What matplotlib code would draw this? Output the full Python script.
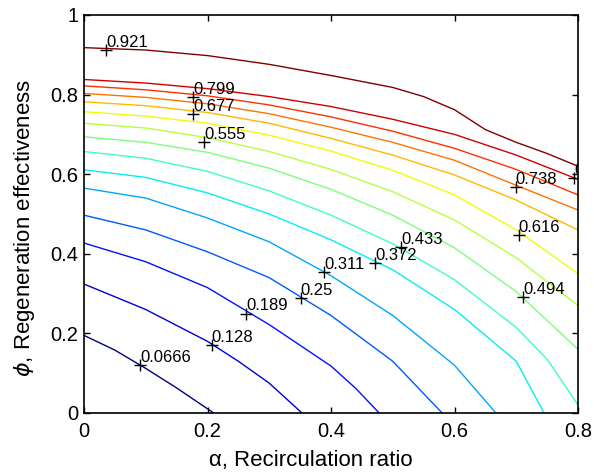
import matplotlib
matplotlib.use('Agg')
import matplotlib.pyplot as plt
from matplotlib.colors import Normalize

plt.rcParams['font.family'] = ['Liberation Sans', 'DejaVu Sans']

# contour levels (eta) and where each level line runs in (alpha, phi)
levels = [0.0666, 0.128, 0.189, 0.25, 0.311, 0.372, 0.433, 0.494,
          0.555, 0.616, 0.677, 0.738, 0.799, 0.86, 0.921]

a_0666 = [0, 0.05, 0.1, 0.15, 0.21]
p_0666 = [0.195, 0.158, 0.112, 0.063, 0.0]
a_128 = [0, 0.1, 0.2, 0.25, 0.3, 0.353]
p_128 = [0.324, 0.26, 0.18, 0.13, 0.075, 0.0]
a_189 = [0, 0.1, 0.2, 0.3, 0.4, 0.44, 0.478]
p_189 = [0.427, 0.38, 0.315, 0.222, 0.118, 0.062, 0.0]
a_25 = [0, 0.1, 0.2, 0.3, 0.4, 0.5, 0.58]
p_25 = [0.497, 0.46, 0.405, 0.34, 0.245, 0.13, 0.0]
a_311 = [0, 0.1, 0.2, 0.3, 0.4, 0.5, 0.6, 0.667]
p_311 = [0.565, 0.54, 0.49, 0.43, 0.345, 0.245, 0.12, 0.0]
a_372 = [0, 0.1, 0.2, 0.3, 0.4, 0.5, 0.6, 0.7, 0.745]
p_372 = [0.611, 0.592, 0.553, 0.50, 0.435, 0.36, 0.26, 0.13, 0.0]
a_433 = [0, 0.1, 0.2, 0.3, 0.4, 0.5, 0.6, 0.7, 0.75, 0.8]
p_433 = [0.657, 0.64, 0.607, 0.558, 0.497, 0.425, 0.335, 0.215, 0.135, 0.02]
a_grid = [0, 0.1, 0.2, 0.3, 0.4, 0.5, 0.6, 0.7, 0.8]
p_494 = [0.694, 0.68, 0.655, 0.615, 0.562, 0.497, 0.415, 0.305, 0.16]
p_555 = [0.728, 0.716, 0.692, 0.657, 0.612, 0.556, 0.485, 0.39, 0.27]
p_616 = [0.757, 0.746, 0.728, 0.698, 0.658, 0.61, 0.548, 0.46, 0.35]
p_677 = [0.782, 0.772, 0.755, 0.728, 0.69, 0.648, 0.598, 0.535, 0.46]
p_738 = [0.803, 0.793, 0.777, 0.752, 0.718, 0.68, 0.635, 0.572, 0.51]
p_799 = [0.822, 0.812, 0.797, 0.774, 0.744, 0.708, 0.665, 0.612, 0.548]
p_86 = [0.838, 0.829, 0.815, 0.795, 0.77, 0.738, 0.70, 0.648, 0.587]
a_921 = [0, 0.1, 0.2, 0.3, 0.4, 0.5, 0.55, 0.6, 0.65, 0.7, 0.75, 0.8]
p_921 = [0.918, 0.912, 0.898, 0.876, 0.848, 0.818, 0.795, 0.762, 0.712, 0.68, 0.652, 0.62]

# clabel positions
label_text = ['0.0666', '0.128', '0.189', '0.25', '0.311', '0.372', '0.433', '0.494',
              '0.555', '0.616', '0.677', '0.738', '0.799', '0.86', '0.921']
label_a = [0.091, 0.207, 0.263, 0.351, 0.389, 0.472, 0.514, 0.711,
           0.195, 0.704, 0.177, 0.699, 0.177, 0.794, 0.036]
label_p = [0.121, 0.171, 0.250, 0.289, 0.354, 0.377, 0.417, 0.291,
           0.681, 0.447, 0.752, 0.568, 0.794, 0.590, 0.912]

xticks = [0, 0.2, 0.4, 0.6, 0.8]
xticklabels = ['0', '0.2', '0.4', '0.6', '0.8']
yticks = [0, 0.2, 0.4, 0.6, 0.8, 1]
yticklabels = ['0', '0.2', '0.4', '0.6', '0.8', '1']

curves = [(a_0666, p_0666), (a_128, p_128), (a_189, p_189), (a_25, p_25),
          (a_311, p_311), (a_372, p_372), (a_433, p_433), (a_grid, p_494),
          (a_grid, p_555), (a_grid, p_616), (a_grid, p_677), (a_grid, p_738),
          (a_grid, p_799), (a_grid, p_86), (a_921, p_921)]

fig = plt.figure(figsize=(5.94, 4.76), dpi=100)
ax = fig.add_axes([84 / 594, 63 / 476, 494 / 594, 398 / 476])

# jet colours spread over the level range, like matlab's contour
norm = Normalize(vmin=levels[0], vmax=levels[-1])
for lev, (a, p) in zip(levels, curves):
    ax.plot(a, p, color=plt.cm.jet(norm(lev)), lw=1.0, solid_joinstyle='round')

for t, a, p in zip(label_text, label_a, label_p):
    ax.plot(a, p, marker='+', color='black', markersize=8, mew=1.0, clip_on=True)
    ax.text(a, p, t, ha='left', va='bottom', fontsize=12, color='black', clip_on=True)

ax.set_xlim(0, 0.8)
ax.set_ylim(0, 1)
ax.set_xticks(xticks)
ax.set_xticklabels(xticklabels)
ax.set_yticks(yticks)
ax.set_yticklabels(yticklabels)
ax.tick_params(direction='in', top=True, right=True, length=4, width=1,
               labelsize=14.5)
ax.tick_params(axis='x', pad=6.5)
ax.tick_params(axis='y', pad=4)
for spine in ax.spines.values():
    spine.set_linewidth(1.2)

ax.set_xlabel('α, Recirculation ratio', fontsize=16)
ax.set_ylabel(r'$\phi$, Regeneration effectiveness', fontsize=16)
ax.xaxis.set_label_coords(0.46, -0.092)
ax.yaxis.set_label_coords(-0.095, 0.465)

fig.savefig('out.png', dpi=100, facecolor='white')
